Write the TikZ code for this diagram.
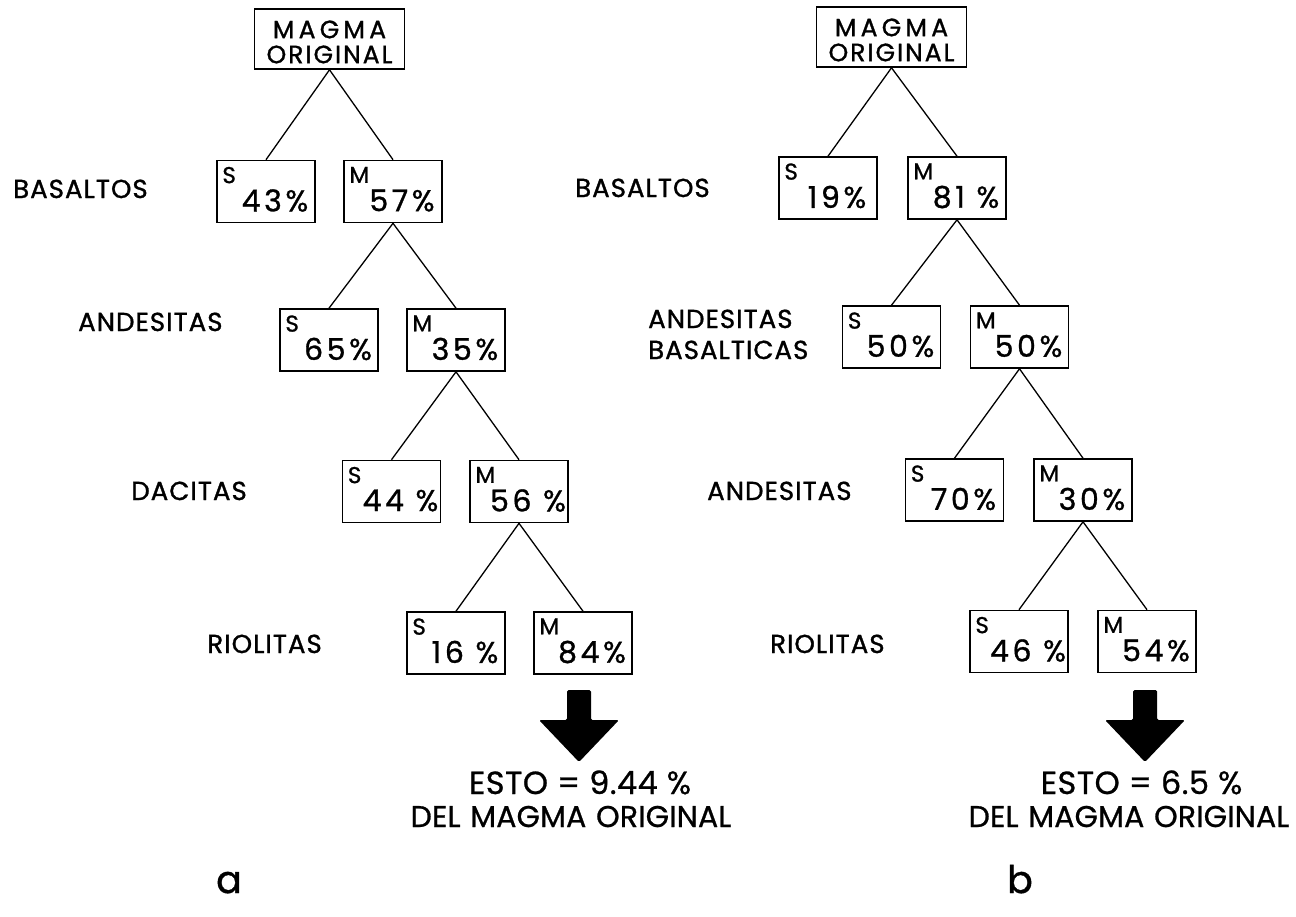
\documentclass[tikz,border=0pt]{standalone}
\usepackage{fontspec}
\setmainfont{Poppins}[LetterSpace=10,FakeBold=1]
\newfontfamily\fLab{Poppins}[LetterSpace=4,FakeBold=1.2]
\newfontfamily\fTop{Poppins}[LetterSpace=8,FakeBold=1.2]
\newfontfamily\fTopw{Poppins}[LetterSpace=17,FakeBold=1.2]
\newfontfamily\fPct{Poppins}[LetterSpace=12,FakeBold=1]
\newfontfamily\fLet{Poppins}[LetterSpace=0,FakeBold=1]
\newfontfamily\fRes{Poppins}[LetterSpace=1.5,FakeBold=0.8]
\newfontfamily\fResw{Poppins}[LetterSpace=0.5,WordSpace=1.2,FakeBold=0.8]
\begin{document}
\begin{tikzpicture}[x=1pt,y=-1pt,
  bx/.style={draw, line width=1.6pt, minimum width=98pt, minimum height=62pt, inner sep=0pt},
  topbx/.style={draw, line width=1.6pt, minimum width=150pt, minimum height=60pt, inner sep=0pt},
  toptxt/.style={inner sep=0pt, anchor=base, font=\fTop\fontsize{25}{25}\selectfont},
  toptxtw/.style={inner sep=0pt, anchor=base, font=\fTopw\fontsize{25}{25}\selectfont},
  ln/.style={line width=1.3pt},
  lt/.style={inner sep=0pt, font=\fLet\fontsize{23}{23}\selectfont},
  pc/.style={inner sep=0pt, font=\fPct\fontsize{30}{30}\selectfont},
  lab/.style={inner sep=0pt, font=\fLab\fontsize{26}{26}\selectfont},
  res/.style={inner sep=0pt, font=\fRes\fontsize{32}{32}\selectfont},
  resw/.style={inner sep=0pt, font=\fResw\fontsize{30}{30}\selectfont},
  sub/.style={inner sep=0pt, font=\fLet\fontsize{38}{38}\selectfont},
  bigarrow/.style={fill=black, rounded corners=1.5pt}
]
\useasboundingbox (0,0) rectangle (1296,916);

% ---------------- tree a ----------------
\node[topbx] (at) at (329.5,39) {};
\node[toptxtw] (at-1) at ([yshift=-30pt]at.north) {MAGMA};
\node[toptxt] (at-2) at ([yshift=-55pt]at.north) {ORIGINAL};
\node[bx] (a1s) at (266,191.5) {};
\node[bx] (a1m) at (393,191.5) {};
\node[bx] (a2s) at (329,340) {};
\node[bx] (a2m) at (456,340) {};
\node[bx] (a3s) at (391.5,491.5) {};
\node[bx] (a3m) at (519,491.5) {};
\node[bx] (a4s) at (456,643) {};
\node[bx] (a4m) at (583,643) {};

\draw[ln] (at.south) -- (a1s.north);
\draw[ln] (at.south) -- (a1m.north);
\draw[ln] (a1m.south) -- (a2s.north);
\draw[ln] (a1m.south) -- (a2m.north);
\draw[ln] (a2m.south) -- (a3s.north);
\draw[ln] (a2m.south) -- (a3m.north);
\draw[ln] (a3m.south) -- (a4s.north);
\draw[ln] (a3m.south) -- (a4m.north);

\foreach \b/\l/\p in {a1s/S/43\%, a1m/M/57\%, a2s/S/65\%, a2m/M/35\%, a3s/S/44 \%, a3m/M/56 \%, a4s/S/16 \%, a4m/M/84\%}{
  \node[lt, anchor=north west] (\b-l) at ([xshift=6pt,yshift=-7pt]\b.north west) {\l};
  \node[pc] (\b-p) at ([xshift=9pt,yshift=-9pt]\b.center) {\p};
}

\node[lab, anchor=base west] (aL1) at (13,198) {BASALTOS};
\node[lab, anchor=base west] (aL2) at (78,331) {ANDESITAS};
\node[lab, anchor=base east] (aL3) at (247,500) {DACITAS};
\node[lab, anchor=base east] (aL4) at (322,653) {RIOLITAS};

\coordinate (aarr) at (579,690);
\fill[bigarrow] ([xshift=-12pt]aarr) -- ([xshift=12pt]aarr) -- ([xshift=12pt,yshift=-30pt]aarr)
  -- ([xshift=40pt,yshift=-30pt]aarr) -- ([yshift=-72pt]aarr) -- ([xshift=-40pt,yshift=-30pt]aarr)
  -- ([xshift=-12pt,yshift=-30pt]aarr) -- cycle;

\node[res, anchor=base] (ares1) at (580,794) {ESTO = 9.44 \%};
\node[resw, anchor=base] (ares2) at (571,827) {DEL MAGMA ORIGINAL};
\node[sub, anchor=base] (alab) at (229,893) {a};

% ---------------- tree b ----------------
\node[topbx] (bt) at (891.5,37) {};
\node[toptxtw] (bt-1) at ([yshift=-30pt]bt.north) {MAGMA};
\node[toptxt] (bt-2) at ([yshift=-55pt]bt.north) {ORIGINAL};
\node[bx] (b1s) at (828,188) {};
\node[bx] (b1m) at (957,188) {};
\node[bx] (b2s) at (891.5,337) {};
\node[bx] (b2m) at (1019.5,337) {};
\node[bx] (b3s) at (954.5,490) {};
\node[bx] (b3m) at (1083,490) {};
\node[bx] (b4s) at (1019,641.5) {};
\node[bx] (b4m) at (1147,641.5) {};

\draw[ln] (bt.south) -- (b1s.north);
\draw[ln] (bt.south) -- (b1m.north);
\draw[ln] (b1m.south) -- (b2s.north);
\draw[ln] (b1m.south) -- (b2m.north);
\draw[ln] (b2m.south) -- (b3s.north);
\draw[ln] (b2m.south) -- (b3m.north);
\draw[ln] (b3m.south) -- (b4s.north);
\draw[ln] (b3m.south) -- (b4m.north);

\foreach \b/\l/\p in {b1s/S/19\%, b1m/M/81 \%, b2s/S/50\%, b2m/M/50\%, b3s/S/70\%, b3m/M/30\%, b4s/S/46 \%, b4m/M/54\%}{
  \node[lt, anchor=north west] (\b-l) at ([xshift=6pt,yshift=-7pt]\b.north west) {\l};
  \node[pc] (\b-p) at ([xshift=9pt,yshift=-9pt]\b.center) {\p};
}

\node[lab, anchor=base west] (bL1) at (575,197) {BASALTOS};
\node[lab, anchor=base west] (bL2a) at (648,328) {ANDESITAS};
\node[lab, anchor=base west] (bL2b) at (648,359) {BASALTICAS};
\node[lab, anchor=base west] (bL3) at (707,500) {ANDESITAS};
\node[lab, anchor=base west] (bL4) at (770,653) {RIOLITAS};

\coordinate (barr) at (1145,690);
\fill[bigarrow] ([xshift=-12pt]barr) -- ([xshift=12pt]barr) -- ([xshift=12pt,yshift=-30pt]barr)
  -- ([xshift=40pt,yshift=-30pt]barr) -- ([yshift=-72pt]barr) -- ([xshift=-40pt,yshift=-30pt]barr)
  -- ([xshift=-12pt,yshift=-30pt]barr) -- cycle;

\node[res, anchor=base] (bres1) at (1141.5,794) {ESTO = 6.5 \%};
\node[resw, anchor=base] (bres2) at (1129,827) {DEL MAGMA ORIGINAL};
\node[sub, anchor=base] (blab) at (1020,893) {b};
\end{tikzpicture}
\end{document}
